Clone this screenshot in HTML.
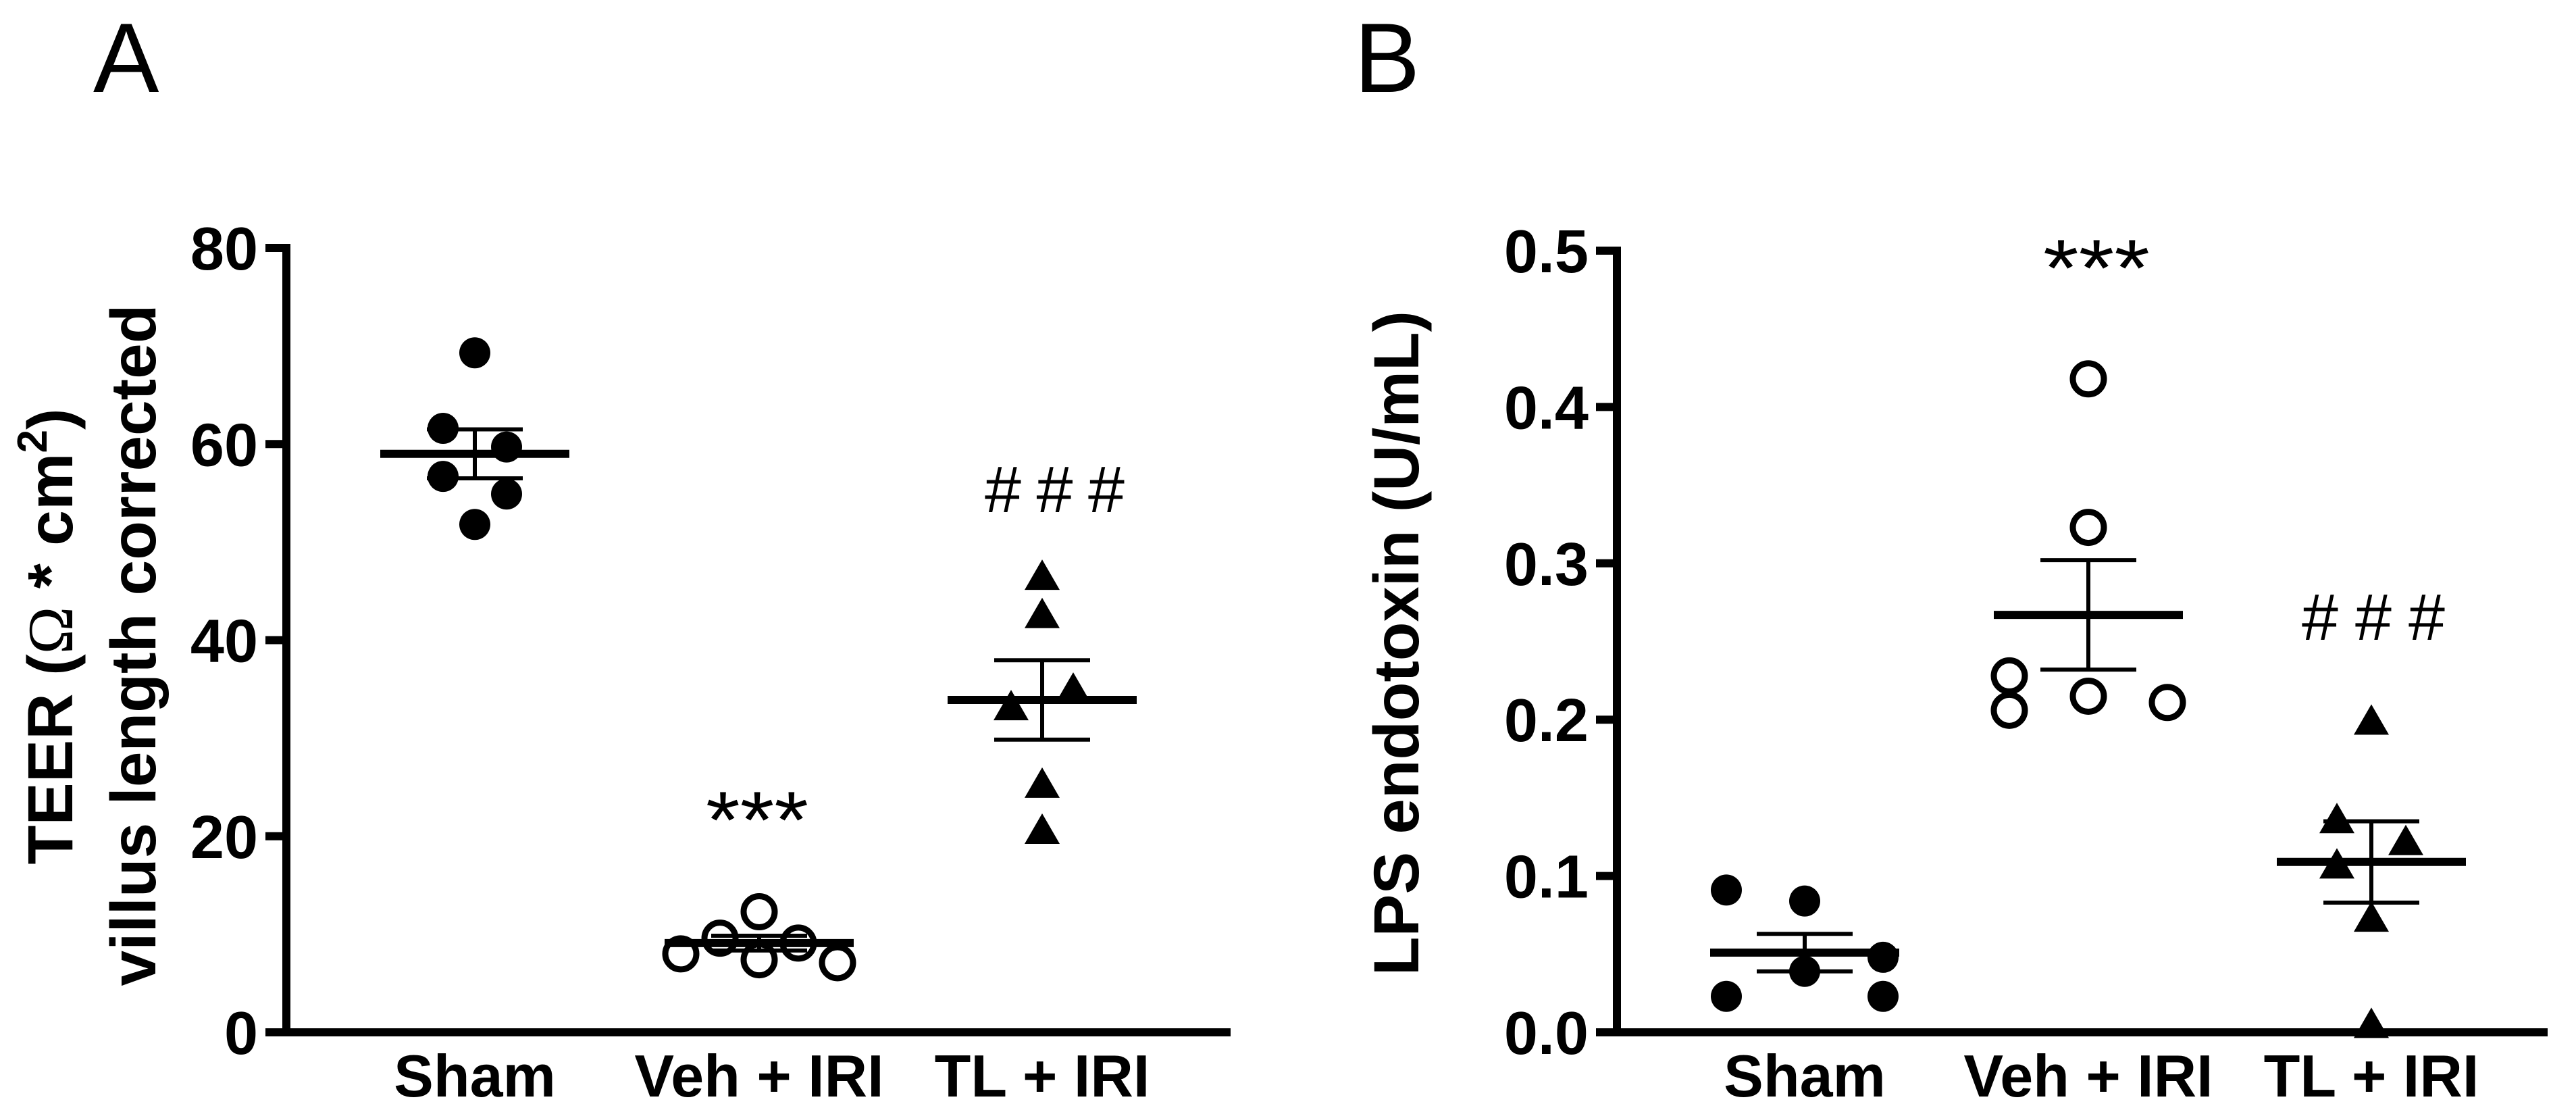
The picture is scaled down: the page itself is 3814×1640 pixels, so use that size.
<!DOCTYPE html>
<html><head><meta charset="utf-8"><style>
html,body{margin:0;padding:0;background:#fff;}
svg{display:block;}
text{font-family:"Liberation Sans",Arial,sans-serif;fill:#000;}
</style></head><body>
<svg id="fig" width="3814" height="1640" viewBox="0 0 3814 1640" xmlns="http://www.w3.org/2000/svg">
<text x="138" y="136" font-size="146">A</text>
<text x="2005" y="136" font-size="146">B</text>
<g id="pa"></g>
<g id="pb"></g>
<text transform="translate(107,942) rotate(-90)" text-anchor="middle" font-size="95" font-weight="bold">TEER (<tspan font-family="Liberation Serif" font-weight="normal">Ω</tspan> * cm<tspan font-size="62" dy="-38">2</tspan><tspan dy="38">)</tspan></text>
<text transform="translate(230,955) rotate(-90)" text-anchor="middle" font-size="95" font-weight="bold" textLength="1009" lengthAdjust="spacingAndGlyphs">villus length corrected</text>
<text transform="translate(2100,952) rotate(-90)" text-anchor="middle" font-size="95" font-weight="bold" textLength="984" lengthAdjust="spacingAndGlyphs">LPS endotoxin (U/mL)</text>
<text x="1045" y="1255" font-size="120" textLength="152" lengthAdjust="spacingAndGlyphs">***</text>
<text x="1458" y="758" font-size="97" textLength="207" lengthAdjust="spacing"># # #</text>
<text x="3025" y="438" font-size="120" textLength="158" lengthAdjust="spacingAndGlyphs">***</text>
<text x="3408" y="947" font-size="97" textLength="212" lengthAdjust="spacing"># # #</text>
</svg>
<script>
const categories = ["Sham", "Veh + IRI", "TL + IRI"];
const ticksA = [0, 20, 40, 60, 80];
const tickLabelsA = ["0", "20", "40", "60", "80"];
const ticksB = [0, 0.1, 0.2, 0.3, 0.4, 0.5];
const tickLabelsB = ["0.0", "0.1", "0.2", "0.3", "0.4", "0.5"];
const shamA = [69.3, 61.6, 59.7, 56.7, 54.9, 51.8];
const vehA = [12.3, 9.6, 9.1, 8.0, 7.4, 7.1];
const tlA = [46.5, 42.6, 35.0, 33.2, 25.3, 20.6];
const meanA = [59.0, 9.1, 33.9];
const semA = [2.5, 0.75, 4.05];
const shamB = [0.091, 0.084, 0.048, 0.039, 0.023, 0.023];
const vehB = [0.418, 0.323, 0.228, 0.206, 0.215, 0.211];
const tlB = [0.199, 0.136, 0.122, 0.107, 0.073, 0.005];
const meanB = [0.051, 0.267, 0.109];
const semB = [0.012, 0.035, 0.026];
// scatter jitter slots (layout, not data)
const jitA = [[0,-1,1,-1,1,0],[0,-1,1,-2,0,2],[0,0,1,-1,0,0]];
const jitUnitA = [47, 58, 46];
const jitB = [[-1,0,1,0,-1,1],[0,0,-1,-1,0,1],[0,-1,1,-1,0,0]];
const jitUnitB = [116, 117, 51];

const NS = "http://www.w3.org/2000/svg";
function mk(tag, attrs, parent){const e=document.createElementNS(NS,tag);for(const k in attrs)e.setAttribute(k,attrs[k]);parent.appendChild(e);return e;}

function drawPanel(g, cfg){
  const y = v => cfg.y0 - (v - 0) * (cfg.y0 - cfg.yTop) / cfg.max;
  const x = i => cfg.cx[i];
  let ax = mk("path",{d:`M${cfg.ax} ${cfg.yTop-6}V${cfg.y0}H${cfg.xEnd}`,fill:"none",stroke:"#000","stroke-width":12,"stroke-linejoin":"miter"},g);
  
  
  cfg.ticks.forEach((t,i)=>{
    const l = mk("line",{x1:cfg.ax-31,x2:cfg.ax,y1:y(t),y2:y(t),stroke:"#000","stroke-width":12},g);
    
    
    const tx = mk("text",{x:cfg.ax-42,y:y(t)+32,"text-anchor":"end","font-size":90,"font-weight":"bold"},g);
    tx.textContent = cfg.labels[i];
    
    
  });
  categories.forEach((c,i)=>{
    const tx = mk("text",{x:x(i),y:1623,"text-anchor":"middle","font-size":88,"font-weight":"bold"},g);
    tx.textContent = c;
    
    
  });
  cfg.series.forEach((vals,i)=>{
    vals.forEach((v,j)=>{
      const px = x(i) + cfg.jit[i][j]*cfg.unit[i], py = y(v);
      let m;
      if(i===0){ m = mk("circle",{cx:px,cy:py,r:23,fill:"#000"},g); }
      else if(i===1){ m = mk("circle",{cx:px,cy:py,r:23,fill:"#fff",stroke:"#000","stroke-width":9},g); }
      else { m = mk("path",{d:`M${px} ${py-25}L${px+26} ${py+20}L${px-26} ${py+20}Z`,fill:"#000"},g); }
      
      
    });
    const mv = cfg.mean[i], s = cfg.sem[i];
    const ml = mk("line",{x1:x(i)-140,x2:x(i)+140,y1:y(mv),y2:y(mv),stroke:"#000","stroke-width":12},g);
    
    
    const eb = mk("path",{d:`M${x(i)} ${y(mv+s)}V${y(mv-s)}M${x(i)-71} ${y(mv+s)}H${x(i)+71}M${x(i)-71} ${y(mv-s)}H${x(i)+71}`,fill:"none",stroke:"#000","stroke-width":6},g);
    
    
  });
}
drawPanel(document.getElementById("pa"),{p:"panel-a",ax:424,y0:1528,yTop:367,max:80,xEnd:1822,cx:[703,1124,1543],ticks:ticksA,labels:tickLabelsA,series:[shamA,vehA,tlA],mean:meanA,sem:semA,jit:jitA,unit:jitUnitA});
drawPanel(document.getElementById("pb"),{p:"panel-b",ax:2394,y0:1528,yTop:371,max:0.5,xEnd:3772,cx:[2672,3092,3511],ticks:ticksB,labels:tickLabelsB,series:[shamB,vehB,tlB],mean:meanB,sem:semB,jit:jitB,unit:jitUnitB});
</script>
</body></html>
